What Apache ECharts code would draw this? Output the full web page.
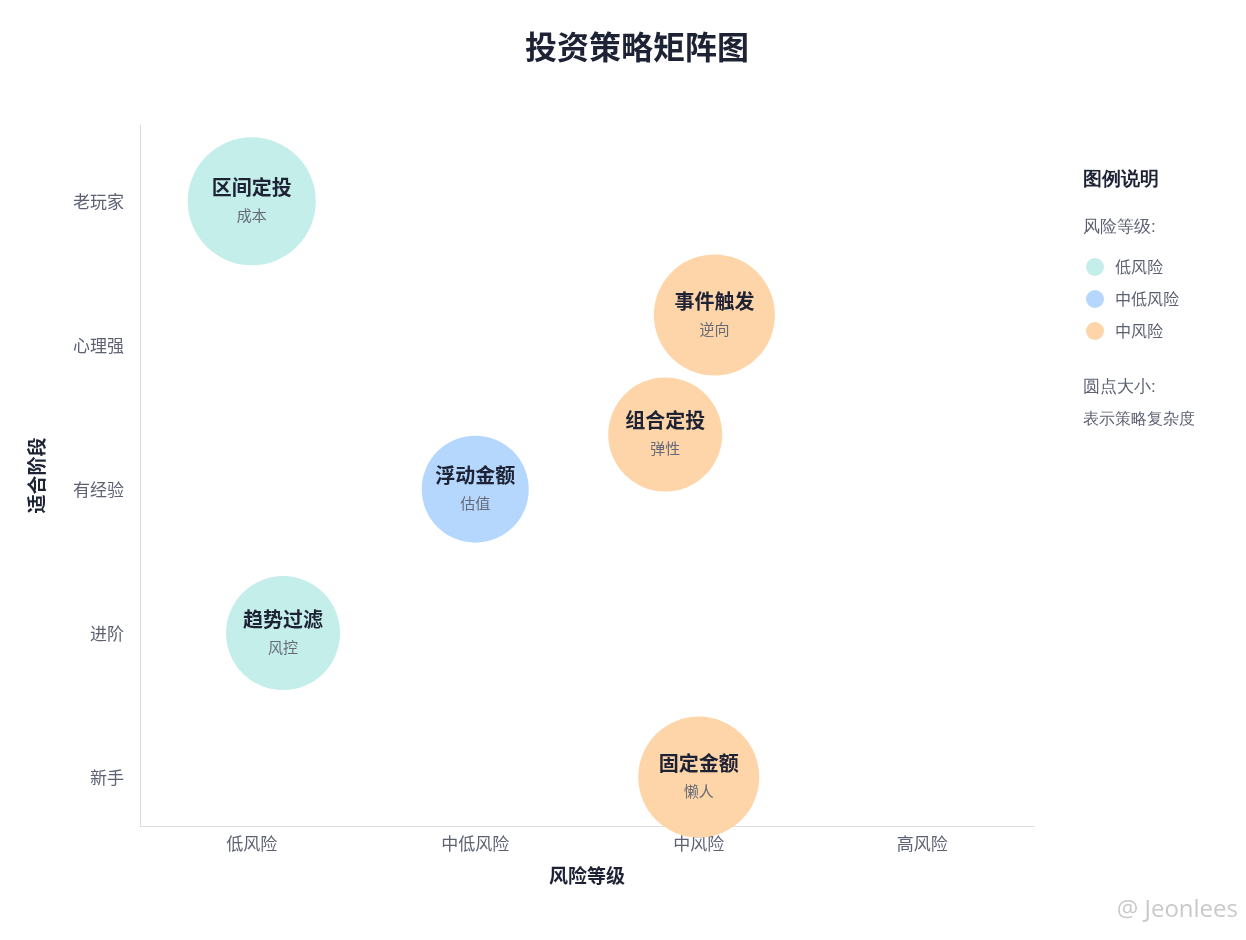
<!DOCTYPE html>
<html>
<head>
<meta charset="utf-8">
<title>投资策略矩阵图</title>
<script src="https://cdn.jsdelivr.net/npm/echarts@6/dist/echarts.min.js"></script>
<style>
html, body { margin: 0; padding: 0; background: #fff; }
#chart { width: 1246px; height: 940px; }
</style>
</head>
<body>
<div id="chart"></div>
<script>
// axis categories
const riskLabels = ['低风险', '中低风险', '中风险', '高风险']
const stageLabels = ['新手', '进阶', '有经验', '心理强', '老玩家']

// strategies
const names = ['区间定投', '趋势过滤', '浮动金额', '组合定投', '事件触发', '固定金额']
const notes = ['成本', '风控', '估值', '弹性', '逆向', '懒人']
const riskX = [0, 0.14, 1, 1.85, 2.07, 2]
const stageY = [4, 1, 2, 2.38, 3.21, 0]
const complexity = [8, 6, 5, 6, 7, 7]
const riskLevel = [0, 0, 1, 2, 2, 2]

const levelNames = ['低风险', '中低风险', '中风险']
const levelColors = ['#c4eee9', '#b5d7fd', '#fed5a8']

const dark = '#1e2235'
const gray = '#5d6173'

const series = levelNames.map((lv, k) => {
    const data = []
    names.forEach((n, i) => {
        if (riskLevel[i] === k) {
            data.push({ name: n, value: [riskX[i], stageY[i], complexity[i]], note: notes[i] })
        }
    })
    return {
        name: lv,
        type: 'scatter',
        data: data,
        symbolSize: v => 72 + 7 * v[2],
        itemStyle: { color: levelColors[k], opacity: 1 },
        label: {
            show: true,
            position: 'inside',
            formatter: p => '{n|' + p.name + '}\n{s|' + p.data.note + '}',
            rich: {
                n: { fontSize: 20, fontWeight: 'bold', color: dark, lineHeight: 28 },
                s: { fontSize: 15, color: '#666a78', lineHeight: 28 }
            }
        },
        z: 3
    }
})

const chart = echarts.init(document.getElementById('chart'))
chart.setOption({
    backgroundColor: '#fff',
    textStyle: { fontFamily: '"Noto Sans CJK SC", "Noto Sans", sans-serif' },
    title: {
        text: '投资策略矩阵图',
        left: 632,
        top: 26,
        textAlign: 'center',
        textStyle: { fontSize: 32, fontWeight: 'bold', color: dark }
    },
    grid: { left: 140, right: 212, top: 125, bottom: 114 },
    legend: {
        orient: 'vertical',
        left: 1086,
        top: 258,
        padding: 0,
        itemWidth: 18,
        itemHeight: 18,
        itemGap: 14,
        icon: 'circle',
        data: levelNames,
        textStyle: { fontSize: 16, color: gray, padding: [0, 0, 0, 6] }
    },
    xAxis: {
        type: 'value',
        min: -0.5,
        max: 3.5,
        name: '风险等级',
        nameLocation: 'middle',
        nameGap: 40,
        nameTextStyle: { fontSize: 19, fontWeight: 'bold', color: dark },
        axisLine: { show: true, onZero: false, lineStyle: { color: '#dcdde2', width: 1 } },
        axisTick: { show: false },
        splitLine: { show: false },
        axisLabel: {
            customValues: [0, 1, 2, 3],
            formatter: v => riskLabels[Math.round(v)],
            fontSize: 17,
            color: gray,
            margin: 9
        }
    },
    yAxis: {
        type: 'value',
        min: -0.34,
        max: 4.53,
        name: '适合阶段',
        nameLocation: 'middle',
        nameGap: 94,
        nameRotate: 90,
        nameTextStyle: { fontSize: 19, fontWeight: 'bold', color: dark },
        axisLine: { show: true, onZero: false, lineStyle: { color: '#dcdde2', width: 1 } },
        axisTick: { show: false },
        splitLine: { show: false },
        axisLabel: {
            customValues: [0, 1, 2, 3, 4],
            formatter: v => stageLabels[Math.round(v)],
            fontSize: 17,
            color: gray,
            margin: 16
        }
    },
    graphic: [
        { type: 'text', left: 1083, top: 170, style: { text: '图例说明', fontSize: 19, fontWeight: 'bold', fill: dark } },
        { type: 'text', left: 1083, top: 219, style: { text: '风险等级:', fontSize: 17, fill: gray } },
        { type: 'text', left: 1083, top: 379, style: { text: '圆点大小:', fontSize: 17, fill: gray } },
        { type: 'text', left: 1083, top: 412, style: { text: '表示策略复杂度', fontSize: 16, fill: gray } },
        { type: 'text', right: 8, top: 898, style: { text: '@ Jeonlees', fontSize: 24, fill: '#c9c9cc', fontFamily: '"Open Sans", sans-serif' } }
    ],
    series: series
})
</script>
</body>
</html>
